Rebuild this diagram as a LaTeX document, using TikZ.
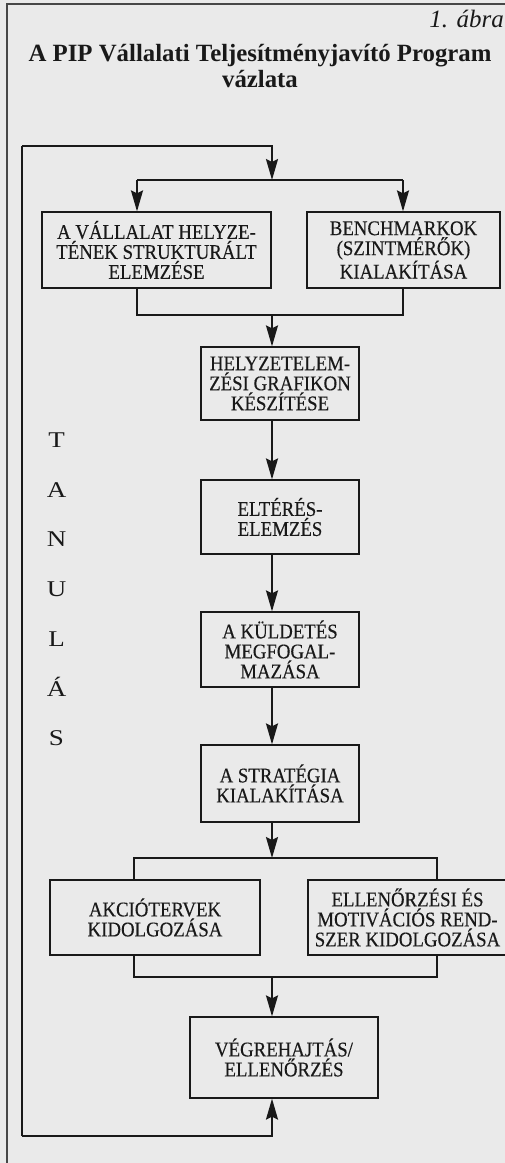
\documentclass[tikz,border=0pt]{standalone}
\usepackage{fontspec}
\setmainfont{Liberation Serif}
\newfontfamily\boxfont[FakeStretch=0.9,FakeBold=0.3]{Liberation Serif}
\newfontfamily\letterfont[FakeStretch=1.2]{Liberation Serif}
\usetikzlibrary{arrows.meta,calc}
\definecolor{paper}{RGB}{234,234,234}
\definecolor{ink}{RGB}{25,25,25}
\tikzset{
  box/.style={draw=ink,line width=1.2pt,inner sep=0pt,align=center,
    font=\boxfont\fontsize{20.9}{20}\selectfont,text=ink},
  conn/.style={draw=ink,line width=2.1pt},
  arr/.style={conn,-{Stealth[length=21pt,width=12pt,inset=3pt]}},
  frame/.style={draw=ink!80,line width=1.4pt},
  letter/.style={font=\letterfont\fontsize{22.5}{22.5}\selectfont,anchor=base,text=ink,inner sep=0pt}
}
\begin{document}
\begin{tikzpicture}[x=1pt,y=-1pt]
\fill[paper] (0,0) rectangle (505,1163);
\useasboundingbox (0,0) rectangle (505,1163);
\clip (0,0) rectangle (505,1163);
% outer frame
\draw[frame] (7,1163) -- (7,4) -- (506,4);
% titles
\node[anchor=base east,inner sep=0pt,font=\fontsize{25}{25}\selectfont\itshape,text=ink] (fig) at (504,27) {1. ábra};
\node[anchor=base,inner sep=0pt,align=center,font=\fontsize{24.8}{26}\selectfont\bfseries,text=ink] (title) at (260,87) {A PIP Vállalati Teljesítményjavító Program\\vázlata};
% boxes
\node[box,minimum width=229pt,minimum height=76pt] (b1) at (156.5,250) {A VÁLLALAT HELYZE-\\TÉNEK STRUKTURÁLT\\ELEMZÉSE};
\node[box,minimum width=193pt,minimum height=76pt] (b2) at (403.5,250) {BENCHMARKOK\\(SZINTMÉRŐK)\\KIALAKÍTÁSA};
\node[box,minimum width=158pt,minimum height=73pt] (b3) at (280,383.5) {HELYZETELEM-\\ZÉSI GRAFIKON\\KÉSZÍTÉSE};
\node[box,minimum width=158pt,minimum height=74pt] (b4) at (280,517) {ELTÉRÉS-\\ELEMZÉS};
\node[box,minimum width=158pt,minimum height=75pt] (b5) at (280,649.5) {A KÜLDETÉS\\MEGFOGAL-\\MAZÁSA};
\node[box,minimum width=158pt,minimum height=77pt] (b6) at (280,783.5) {A STRATÉGIA\\KIALAKÍTÁSA};
\node[box,minimum width=210pt,minimum height=75pt] (b7) at (155,917.5) {AKCIÓTERVEK\\KIDOLGOZÁSA};
\node[box,minimum width=199pt,minimum height=75pt] (b8) at (407.5,917.5) {ELLENŐRZÉSI ÉS\\MOTIVÁCIÓS REND-\\SZER KIDOLGOZÁSA};
\node[box,minimum width=188pt,minimum height=81pt] (b9) at (284,1057.5) {VÉGREHAJTÁS/\\ELLENŐRZÉS};
% learning letters
\foreach \l [count=\i from 0] in {T,A,N,U,L,Á,S}
  \node[letter] (t\i) at (56.5,447.5+49.7*\i) {\l};
% helper coordinates
\coordinate (spine) at (272,0);
\coordinate (loopT) at (22,146);
\coordinate (loopB) at (22,1136);
\coordinate (s1) at (272,180);
\coordinate (s1L) at (137,180);
\coordinate (s1R) at (403,180);
\coordinate (m1) at (272,315);
\coordinate (s2) at (272,858);
\coordinate (s2L) at (134,858);
\coordinate (s2R) at (437,858);
\coordinate (m2) at (272,977);
% feedback loop
\draw[conn] (loopB) -- (loopT);
\draw[arr] (loopT) -| (s1);
\draw[arr] (loopB) -| (b9.south -| spine);
% split to first two boxes
\draw[conn] (s1L) -- (s1R);
\draw[arr] (s1L) -- (b1.north -| s1L);
\draw[arr] (s1R) -- (b2.north -| s1R);
% merge
\draw[conn] (b1.south -| s1L) -- (s1L |- m1) -- (s1R |- m1) -- (b2.south -| s1R);
\draw[arr] (m1) -- (b3.north -| spine);
% chain
\draw[arr] (b3.south -| spine) -- (b4.north -| spine);
\draw[arr] (b4.south -| spine) -- (b5.north -| spine);
\draw[arr] (b5.south -| spine) -- (b6.north -| spine);
\draw[arr] (b6.south -| spine) -- (s2);
% split 2
\draw[conn] (b7.north -| s2L) -- (s2L) -- (s2R) -- (b8.north -| s2R);
% merge 2
\draw[conn] (b7.south -| s2L) -- (s2L |- m2) -- (s2R |- m2) -- (b8.south -| s2R);
\draw[arr] (m2) -- (b9.north -| spine);
\end{tikzpicture}
\end{document}
